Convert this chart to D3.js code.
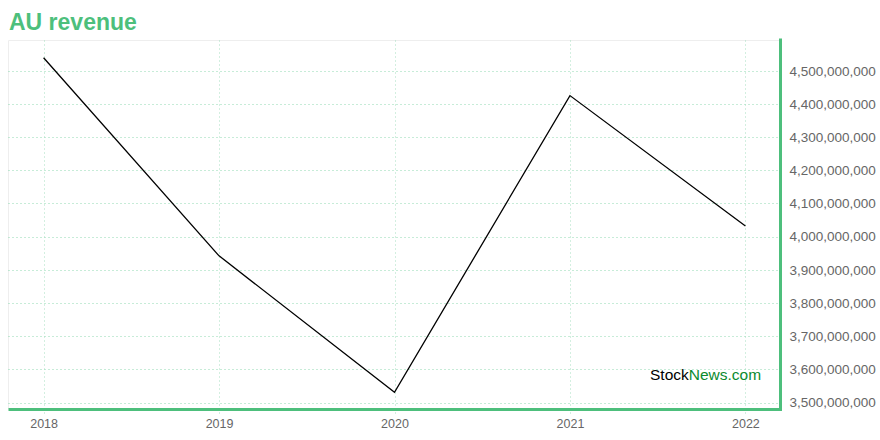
<!DOCTYPE html>
<html><head><meta charset="utf-8">
<script src="https://cdn.jsdelivr.net/npm/d3@7/dist/d3.min.js"></script>
<style>body{margin:0;background:#fff;}svg{display:block;font-family:"Liberation Sans",Arial,sans-serif;}</style>
</head><body><svg id="c" width="880" height="440"></svg>
<script>
const years = ["2018","2019","2020","2021","2022"];
const revenue = [4539000000, 3942000000, 3531000000, 4425000000, 4032000000];
const yTicks = [3500000000,3600000000,3700000000,3800000000,3900000000,4000000000,4100000000,4200000000,4300000000,4400000000,4500000000];
const title = "AU revenue";
const green = "#4dbf7c";

const svg = d3.select("#c");
const L = 8.5, R = 780.5, T = 40.5, B = 409.5;
const x = d3.scalePoint().domain(years).range([L, R]).padding(0.2);
const y = d3.scaleLinear().domain([3479000000, 4591000000]).range([B, T]);

svg.append("text").attr("x", 9).attr("y", 30).attr("fill", green)
  .attr("font-size", 23).attr("font-weight", "bold").text(title);

// frame light gray
svg.append("path").attr("d", `M${L},${B}V${T}H${R}`).attr("fill","none").attr("stroke","#eeeeee").attr("stroke-width",1);

// grid
const grid = svg.append("g");
grid.selectAll("line.h").data(yTicks).join("line").attr("class","h")
  .attr("x1", L).attr("x2", R).attr("y1", d => Math.round(y(d))+0.5).attr("y2", d => Math.round(y(d))+0.5)
  .attr("stroke", "#8fd8b0").attr("stroke-dasharray", "1,3");
grid.selectAll("line.v").data(years).join("line").attr("class","v")
  .attr("x1", d => Math.round(x(d))+0.5).attr("x2", d => Math.round(x(d))+0.5).attr("y1", T).attr("y2", B+5)
  .attr("stroke", "#a6dfc0").attr("stroke-dasharray", "1,3");

// line
const line = d3.line().x((d,i) => x(years[i])).y(d => y(d));
svg.append("path").datum(revenue).attr("d", line).attr("fill","none").attr("stroke","#000").attr("stroke-width",1.3);

// watermark
const wm = svg.append("text").attr("x", 650).attr("y", 380).attr("font-size", 15.5);
wm.append("tspan").attr("fill","#000").text("Stock");
wm.append("tspan").attr("fill","#0b8a2e").text("News");
wm.append("tspan").attr("fill","#0b8a2e").text(".com");

// axes
const yAxis = d3.axisRight(y).tickValues(yTicks).tickSize(0).tickPadding(9).tickFormat(d3.format(","));
const ga = svg.append("g").attr("transform", `translate(${R},0)`).call(yAxis);
ga.select(".domain").remove();
ga.selectAll("text").attr("fill","#666").attr("font-size",13.5).attr("font-family","Liberation Sans, Arial, sans-serif");

const xAxis = d3.axisBottom(x).tickSize(0).tickPadding(10);
const gx = svg.append("g").attr("transform", `translate(0,${B})`).call(xAxis);
gx.select(".domain").remove();
gx.selectAll("text").attr("fill","#666").attr("font-size",12.5).attr("font-family","Liberation Sans, Arial, sans-serif");

svg.append("line").attr("x1", R).attr("x2", R).attr("y1", T-2).attr("y2", B+1.5).attr("stroke", green).attr("stroke-width", 3);
svg.append("line").attr("x1", L).attr("x2", R+1.5).attr("y1", B).attr("y2", B).attr("stroke", green).attr("stroke-width", 3);
</script></body></html>
